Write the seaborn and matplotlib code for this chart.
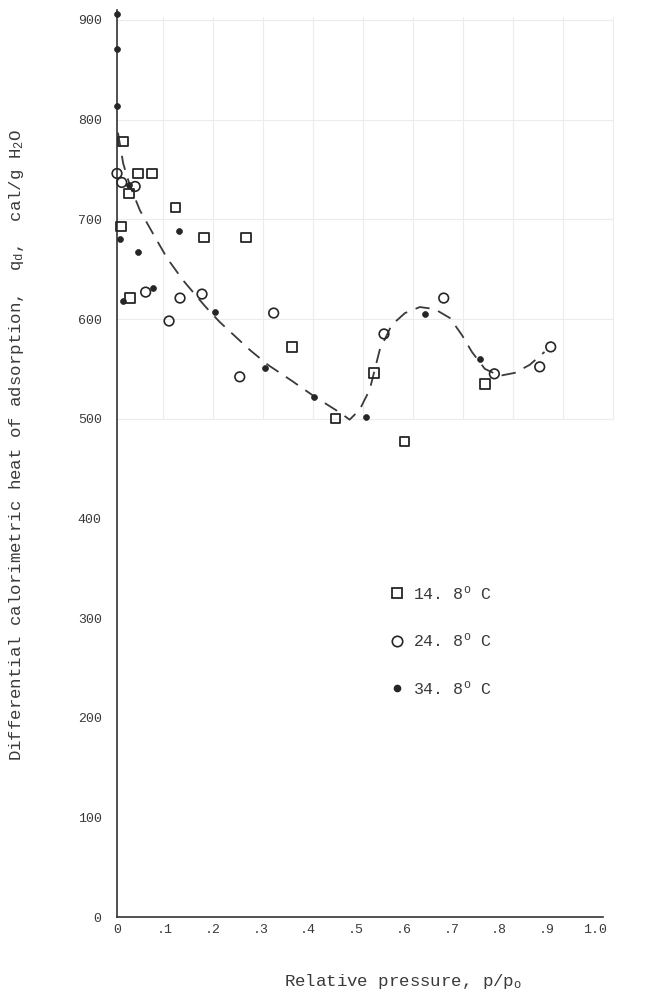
import numpy as np
import pandas as pd
import matplotlib
matplotlib.use("Agg")
import matplotlib.pyplot as plt
from matplotlib.lines import Line2D
import seaborn as sns

# ---- data ----
sq_x = [0.008, 0.013, 0.025, 0.027, 0.044, 0.073, 0.123, 0.182, 0.270, 0.366, 0.458, 0.538, 0.602, 0.770]
sq_y = [693, 778, 726, 621, 746, 746, 712, 682, 682, 572, 500, 546, 477, 535]

ci_x = [0.000, 0.010, 0.038, 0.060, 0.109, 0.132, 0.178, 0.257, 0.328, 0.559, 0.684, 0.790, 0.885, 0.908]
ci_y = [746, 737, 733, 627, 598, 621, 625, 542, 606, 585, 621, 545, 552, 572]

fd_x = [0.000, 0.000, 0.000, 0.006, 0.012, 0.025, 0.044, 0.075, 0.130, 0.205, 0.310, 0.412, 0.521, 0.644, 0.759]
fd_y = [906, 871, 814, 680, 618, 734, 667, 631, 688, 607, 551, 522, 502, 605, 560]

curve_x = [0.002, 0.013, 0.027, 0.048, 0.075, 0.105, 0.138, 0.184, 0.215, 0.278, 0.316, 0.366,
           0.414, 0.467, 0.487, 0.508, 0.529, 0.550, 0.575, 0.603, 0.634, 0.665, 0.697, 0.722,
           0.743, 0.770, 0.801, 0.833, 0.864, 0.895]
curve_y = [787, 756, 734, 709, 686, 661, 639, 613, 597, 569, 554, 538,
           522, 506, 499, 509, 529, 569, 594, 606, 612, 610, 601, 584,
           567, 550, 543, 546, 554, 567]

series_labels = ["14. 8$^{\\mathrm{o}}$ C", "24. 8$^{\\mathrm{o}}$ C", "34. 8$^{\\mathrm{o}}$ C"]
x_ticks = [0, 0.1, 0.2, 0.3, 0.4, 0.5, 0.6, 0.7, 0.8, 0.9, 1.0]
x_tick_labels = ["0", ".1", ".2", ".3", ".4", ".5", ".6", ".7", ".8", ".9", "1.0"]
y_ticks = [0, 100, 200, 300, 400, 500, 600, 700, 800, 900]
y_tick_labels = ["0", "100", "200", "300", "400", "500", "600", "700", "800", "900"]
xlabel = "Relative pressure, p/p$_{\\mathrm{o}}$"
ylabel = "Differential calorimetric heat of adsorption,  q$_{\\mathrm{d}}$,  cal/g H$_{2}$O"

# ---- style ----
sns.set_style("white")
plt.rcParams["font.family"] = ["Liberation Mono", "DejaVu Serif"]
plt.rcParams["mathtext.fontset"] = "custom"
plt.rcParams["mathtext.rm"] = "Liberation Mono"
plt.rcParams["mathtext.it"] = "Liberation Mono:italic"
plt.rcParams["mathtext.bf"] = "Liberation Mono:bold"

ink = "#262626"
txt = "#3a3a3a"

fig = plt.figure(figsize=(6.46, 9.93), dpi=100)
ax = fig.add_axes([0.1811, 0.0765, 0.769, 0.9134])

# faint paper grid
grid_col = "#ececec"
for gx in np.arange(0, 11) * 0.1046 - 0.008:
    if gx > 0.01:
        ax.plot([gx, gx], [500, 903], color=grid_col, lw=0.8, zorder=0)
for gy in [500, 600, 700, 800, 900]:
    ax.plot([-0.008, 1.038], [gy, gy], color=grid_col, lw=0.8, zorder=0)

df_sq = pd.DataFrame({"x": sq_x, "y": sq_y})
df_ci = pd.DataFrame({"x": ci_x, "y": ci_y})
df_fd = pd.DataFrame({"x": fd_x, "y": fd_y})
df_cv = pd.DataFrame({"x": curve_x, "y": curve_y})

sns.lineplot(data=df_cv, x="x", y="y", ax=ax, color="#3a3a3a", lw=1.3, sort=False, zorder=2)
ax.lines[-1].set_dashes((8, 5))

sns.scatterplot(data=df_sq, x="x", y="y", ax=ax, marker="s", s=46,
                facecolor="none", edgecolor=ink, linewidth=1.3, zorder=3, clip_on=False)
sns.scatterplot(data=df_ci, x="x", y="y", ax=ax, marker="o", s=48,
                facecolor="none", edgecolor=ink, linewidth=1.2, zorder=3, clip_on=False)
sns.scatterplot(data=df_fd, x="x", y="y", ax=ax, marker="o", s=18,
                color=ink, edgecolor=ink, linewidth=0.5, zorder=3, clip_on=False)

ax.set_xlim(0, 1.04)
ax.set_ylim(0, 910)
ax.spines["top"].set_visible(False)
ax.spines["right"].set_visible(False)
ax.spines["bottom"].set_bounds(0, 1.017)
for s in ["left", "bottom"]:
    ax.spines[s].set_color("#333333")
    ax.spines[s].set_linewidth(1.2)

ax.set_xticks(x_ticks)
ax.set_xticklabels(x_tick_labels)
ax.set_yticks(y_ticks)
ax.set_yticklabels(y_tick_labels)
ax.tick_params(axis="both", direction="in", length=4, width=1.0, color="#333333",
               labelsize=9.5, labelcolor=txt)
ax.tick_params(axis="x", pad=5)
ax.tick_params(axis="y", pad=11)

ax.set_xlabel(xlabel, fontsize=12.5, color=txt)
ax.set_ylabel(ylabel, fontsize=12.5, color=txt)
ax.xaxis.set_label_coords(0.575, -0.061)
ax.yaxis.set_label_coords(-0.183, 0.521)

handles = [
    Line2D([], [], marker="s", ls="none", markersize=7, markerfacecolor="none",
           markeredgecolor=ink, markeredgewidth=1.3),
    Line2D([], [], marker="o", ls="none", markersize=7.5, markerfacecolor="none",
           markeredgecolor=ink, markeredgewidth=1.2),
    Line2D([], [], marker="o", ls="none", markersize=4.5, markerfacecolor=ink,
           markeredgecolor=ink),
]
leg = ax.legend(handles, series_labels, loc="upper left", frameon=False,
                bbox_to_anchor=(390 / 646, 1 - 584 / 993), bbox_transform=fig.transFigure,
                fontsize=12, labelspacing=1.78, handlelength=0.8, handletextpad=0.6,
                borderaxespad=0, borderpad=0)
for t in leg.get_texts():
    t.set_color(txt)

fig.savefig("out.png", dpi=100, facecolor="white")
